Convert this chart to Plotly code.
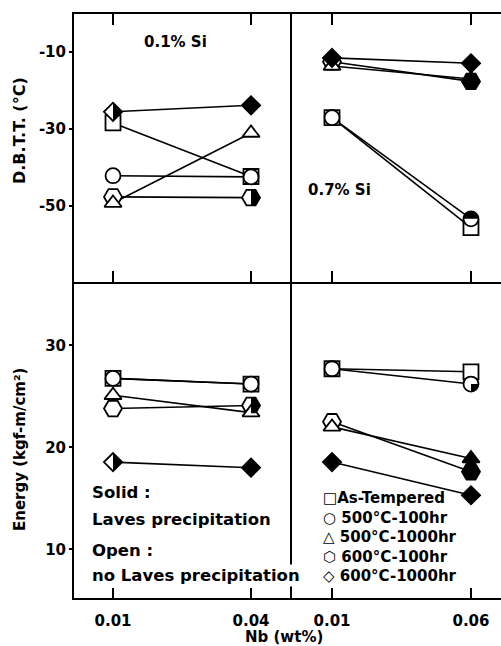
import plotly.graph_objects as go

# ---------------- data ----------------
nb_01si = [0.01, 0.04]          # Nb (wt%) for 0.1% Si steels
nb_07si = [0.01, 0.06]          # Nb (wt%) for 0.7% Si steels
nb_01si_labels = ["0.01", "0.04"]
nb_07si_labels = ["0.01", "0.06"]

series_names = ["As-Tempered", "500°C-100hr", "500°C-1000hr", "600°C-100hr", "600°C-1000hr"]

# D.B.T.T. (°C), series order as series_names
dbtt_01si = [[-28.4, -42.3], [-42.1, -42.4], [-49.2, -31.0], [-47.6, -47.8], [-25.5, -23.8]]
dbtt_07si = [[-27.0, -55.6], [-27.0, -53.3], [-13.6, -17.0], [-12.5, -17.6], [-11.5, -12.9]]
# Energy (kgf-m/cm2)
energy_01si = [[26.75, 26.2], [26.75, 26.2], [25.1, 23.4], [23.8, 24.1], [18.55, 18.0]]
energy_07si = [[27.7, 27.4], [27.7, 26.2], [22.0, 18.9], [22.5, 17.6], [18.55, 15.3]]

# Laves precipitation state of each point: open / solid / partly solid
laves_dbtt_01si = [["open", "open"], ["open", "open"], ["open", "open"], ["open", "half_right"], ["half_right", "solid"]]
laves_dbtt_07si = [["open", "open"], ["open", "half_top"], ["open", "solid"], ["open", "solid"], ["solid", "solid"]]
laves_energy_01si = [["open", "open"], ["open", "open"], ["open", "open"], ["open", "half_right"], ["half_right", "solid"]]
laves_energy_07si = [["open", "open"], ["open", "quarter"], ["open", "solid"], ["open", "solid"], ["solid", "solid"]]

dbtt_ticks = [-10, -30, -50]
dbtt_ticklabels = ["-10", "-30", "-50"]
energy_ticks = [10, 20, 30]
energy_ticklabels = ["10", "20", "30"]

# ---------------- style ----------------
W, H = 501, 646
L, R, T, B = 74, 0, 14, 48
PW, PH = W - L - R, H - T - B
XDIV = (292 - L) / PW
YDIV = (598 - 282) / PH

symbols = ["square", "circle", "triangle-up", "hexagon2", "diamond"]
sizes = [15, 15, 15, 18, 14]
draw_order = [3, 0, 1, 2, 4]
FONT = dict(family="DejaVu Sans", size=15, color="black", weight="bold")


def font(size):
    return dict(FONT, size=size)


def half_path(symbol, size, kind):
    r = size / 2
    if symbol == "diamond":
        d = round(r * 1.3, 2)
        return f"M0,{d}L{d},0L0,-{d}Z"
    if symbol == "hexagon2":
        y1 = round(r / 2, 2)
        x1 = round(r * 3 ** 0.5 / 2, 2)
        return f"M0,{x1}L{y1},{x1}L{r},0L{y1},-{x1}L0,-{x1}Z"
    k = round(r * 0.5523, 2)
    if kind == "half_top":
        return f"M-{r},0C-{r},{k} -{k},{r} 0,{r}C{k},{r} {r},{k} {r},0Z"
    return f"M0,0L{r},0C{r},-{k} {k},-{r} 0,-{r}Z"


panels = [
    ("x2", "y2", nb_01si, dbtt_01si, laves_dbtt_01si),
    ("x4", "y4", nb_07si, dbtt_07si, laves_dbtt_07si),
    ("x", "y", nb_01si, energy_01si, laves_energy_01si),
    ("x3", "y3", nb_07si, energy_07si, laves_energy_07si),
]

fig = go.Figure()
shapes = []
for xa, ya, xs, ys_list, fills in panels:
    for i in draw_order:
        fig.add_trace(go.Scatter(x=xs, y=ys_list[i], mode="lines", xaxis=xa, yaxis=ya,
                                 line=dict(color="black", width=1.6), showlegend=False,
                                 hoverinfo="skip"))
for xa, ya, xs, ys_list, fills in panels:
    for i in draw_order:
        colors = ["black" if f == "solid" else "white" for f in fills[i]]
        fig.add_trace(go.Scatter(x=xs, y=ys_list[i], mode="markers", xaxis=xa, yaxis=ya,
                                 name=series_names[i], showlegend=False, cliponaxis=False,
                                 marker=dict(symbol=symbols[i], size=sizes[i], color=colors,
                                             line=dict(color="black", width=1.8))))
        for j, f in enumerate(fills[i]):
            if f in ("half_right", "half_top", "quarter"):
                shapes.append(dict(type="path", xref=xa, yref=ya, xsizemode="pixel",
                                   ysizemode="pixel", xanchor=xs[j], yanchor=ys_list[i][j],
                                   path=half_path(symbols[i], sizes[i], f),
                                   fillcolor="black", line=dict(width=0), layer="above"))

x_left_range = [0.00152, 0.04891]
x_right_range = [-0.00439, 0.0708]
y_top_range = [-69.7, -0.1]
y_bot_range = [5.23, 36.2]

base = dict(showgrid=False, zeroline=False, linecolor="black", linewidth=2,
            tickcolor="black", tickwidth=2, tickfont=FONT)


def xax(domain, anchor, rng, vals, labels, show, mirror):
    return dict(base, domain=domain, anchor=anchor, range=rng, tickvals=vals, ticktext=labels,
                ticks="inside", ticklen=11 if mirror else 10, showline=True,
                mirror="ticks" if mirror else False,
                showticklabels=show, ticklabelstandoff=8)


def xover(over, anchor, rng, vals):
    return dict(base, overlaying=over, anchor=anchor, side="top", range=rng, tickvals=vals,
                ticks="inside", ticklen=11, showline=False, showticklabels=False)


def yover(over, anchor, side, rng, vals, ln):
    return dict(base, overlaying=over, anchor=anchor, side=side, range=rng, tickvals=vals,
                ticks="inside", ticklen=ln, showticklabels=False, showline=False)


layout = dict(
    width=W, height=H, autosize=False,
    margin=dict(l=L, r=R, t=T, b=B),
    plot_bgcolor="white", paper_bgcolor="white",
    showlegend=False,
    xaxis=xax([0, XDIV], "y", x_left_range, nb_01si, nb_01si_labels, True, False),
    xaxis2=xax([0, XDIV], "y2", x_left_range, nb_01si, nb_01si_labels, False, True),
    xaxis3=xax([XDIV, 1], "y3", x_right_range, nb_07si, nb_07si_labels, True, False),
    xaxis4=xax([XDIV, 1], "y4", x_right_range, nb_07si, nb_07si_labels, False, True),
    xaxis5=xover("x", "y", x_left_range, nb_01si),
    xaxis6=xover("x3", "y3", x_right_range, nb_07si),
    yaxis=dict(base, domain=[0, YDIV], anchor="x", range=y_bot_range, tickvals=energy_ticks,
               ticktext=energy_ticklabels, ticks="outside", ticklen=3, showline=True),
    yaxis2=dict(base, domain=[YDIV, 1], anchor="x2", range=y_top_range, tickvals=dbtt_ticks,
                ticktext=dbtt_ticklabels, ticks="outside", ticklen=3, showline=True),
    yaxis3=dict(base, domain=[0, YDIV], anchor="x3", range=y_bot_range, ticks="",
                showticklabels=False, showline=True),
    yaxis4=dict(base, domain=[YDIV, 1], anchor="x4", range=y_top_range, ticks="",
                showticklabels=False, showline=True),
    yaxis5=yover("y", "x", "left", y_bot_range, energy_ticks, 12),
    yaxis6=yover("y2", "x2", "left", y_top_range, dbtt_ticks, 12),
    yaxis7=yover("y3", "x3", "right", y_bot_range, energy_ticks, 5),
    yaxis8=yover("y4", "x4", "right", y_top_range, dbtt_ticks, 5),
    shapes=shapes,
)


def px(xp):
    return (xp - L) / PW


def py(yp):
    return (H - B - yp) / PH


def ann(text, x, y, size=15, xanchor="center", angle=0, bg=None):
    d = dict(text=text, xref="paper", yref="paper", x=px(x), y=py(y), xanchor=xanchor,
             yanchor="middle", showarrow=False, font=font(size), textangle=angle, align="left")
    if bg:
        d["bgcolor"] = bg
    return d


legend_glyphs = ["□", "○", "△", "⬡", "◇"]
legend_gaps = ["", "\u00a0", "\u00a0", "\u00a0", "\u00a0"]
legend_text = "<br>".join(
    f'<span style="font-weight:normal">{g}</span>{gap}{name}'
    for g, gap, name in zip(legend_glyphs, legend_gaps, series_names))

layout["annotations"] = [
    ann("0.1% Si", 175, 42, 15),
    ann("0.7% Si", 339, 190, 15),
    ann("Solid :", 90, 492, 16.5, "left"),
    ann("Laves precipitation", 90, 519, 16.5, "left"),
    ann("Open :", 90, 550, 16.5, "left"),
    ann("no Laves precipitation", 90, 575, 16.5, "left", bg="white"),
    ann("D.B.T.T. (°C)", 19, 131, 16, angle=-90),
    ann("Energy (kgf-m/cm²)", 20, 450, 15, angle=-90),
    ann("Nb (wt%)", 284, 637, 15),
    ann(legend_text, 321, 537, 15, "left"),
]

fig.update_layout(**layout)
fig.write_html("out.html")
